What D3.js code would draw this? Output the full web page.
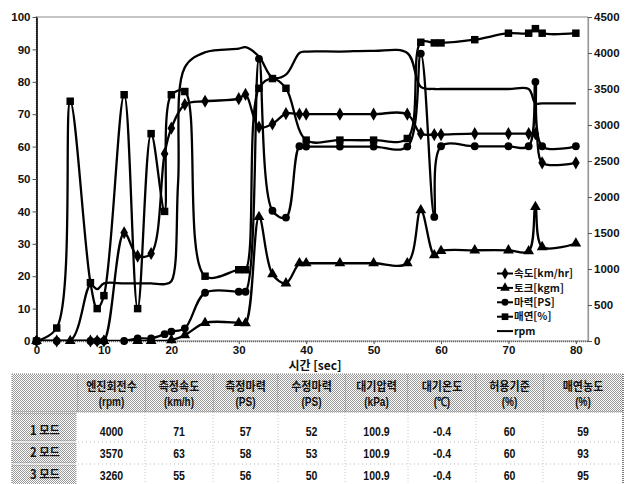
<!DOCTYPE html>
<html>
<head>
<meta charset="utf-8">
<script src="https://cdn.jsdelivr.net/npm/d3@7/dist/d3.min.js"></script>
<style>
  body { margin: 0; background: #fff; }
  svg { display: block; }
</style>
</head>
<body>
<div id="chart-area"></div>
<script>
// ---------------- data ----------------
var speedT  = [0,3,8,9,10,13,15,17,19,20,22,25,30,31,33,35,37,39,40,45,50,55,57,59,60,65,70,73,74,75,80];
var speedV  = [0,0,0,0,0,33.4,26.2,27,57.8,65.7,73,74,74.8,76.1,66,67,70.2,70,70,70,70,70,64,63.7,63.7,64,64,64,64,55,55];

var torqueT = [0,5,10,15,17,20,22,25,30,31,33,35,37,39,40,45,50,55,57,59,60,65,70,73,74,75,80];
var torqueV = [0,0,0,0,0,0.3,1.8,5.6,5.6,5.5,38.3,20.6,17.8,24,24,24,24,24,40.4,26.5,27.8,28,28,27.7,41.4,29,30.1];

var powerT  = [0,3,8,9,10,13,15,17,19,20,22,25,30,31,33,35,37,39,40,45,50,55,57,59,60,65,70,73,74,75,80];
var powerV  = [0,0,0,0,0,0,0.8,0.8,2.1,2.9,3.9,14.9,15.2,15.2,87.1,40.2,38.1,60.1,60,60,60,60,88.7,38.3,60.1,60.1,60.1,60.1,80,60.1,60.1];

var smokeT  = [0,3,5,8,9,10,13,15,17,19,20,22,25,30,31,33,35,37,40,45,50,55,57,59,60,65,70,73,74,75,80];
var smokeV  = [0,4,74,18,10,14,76,10,64,40,76,77,20,22,22,78,81,78,62,62,62,62.5,92.2,92,92,93,95,95,96.4,95,95];

var rpmT    = [0,5,8,9,10,13,15,17,19,20,21,22,25,30,31,33,35,37,39,40,45,50,55,57,59,60,65,70,73,74,75,80];
var rpmV    = [0,0,780,720,800,800,800,800,790,830,2200,3800,4010,4060,4080,3950,3660,3700,4000,4020,4020,4030,4000,3530,3500,3500,3500,3500,3500,3300,3300,3300];

var legendNames = ["속도[km/hr]", "토크[kgm]", "마력[PS]", "매연[%]", "rpm"];

var leftTicks  = [0,10,20,30,40,50,60,70,80,90,100];
var rightTicks = [0,500,1000,1500,2000,2500,3000,3500,4000,4500];
var xTicks     = [0,10,20,30,40,50,60,70,80];

var tableHead1 = ["", "엔진회전수", "측정속도", "측정마력", "수정마력", "대기압력", "대기온도", "허용기준", "매연농도"];
var tableHead2 = ["", "(rpm)", "(km/h)", "(PS)", "(PS)", "(kPa)", "(℃)", "(%)", "(%)"];
var tableModes = ["1 모드", "2 모드", "3 모드"];
var tableVals  = [
  ["4000", "71", "57", "52", "100.9", "-0.4", "60", "59"],
  ["3570", "63", "58", "53", "100.9", "-0.4", "60", "93"],
  ["3260", "55", "56", "50", "100.9", "-0.4", "60", "95"]
];

// ---------------- layout ----------------
var W = 630, H = 484;
var plot = { left: 36.5, right: 588, top: 17, bottom: 341 };
var bold = "'Liberation Sans', Arial, sans-serif";
var kor  = "'Noto Sans CJK KR', 'Noto Sans', sans-serif";

var svg = d3.select("#chart-area").append("svg")
    .attr("width", W)
    .attr("height", H);

var defs = svg.append("defs");
defs.append("clipPath").attr("id", "plotclip")
  .append("rect")
    .attr("x", plot.left).attr("y", plot.top - 6)
    .attr("width", plot.right - plot.left).attr("height", plot.bottom - plot.top + 6);

// dithered grey for the table header cells
var pat = defs.append("pattern").attr("id", "hatch")
    .attr("width", 2).attr("height", 2).attr("patternUnits", "userSpaceOnUse");
pat.append("rect").attr("width", 2).attr("height", 2).attr("fill", "#fff");
pat.append("rect").attr("x", 0).attr("y", 0).attr("width", 1).attr("height", 1).attr("fill", "#999");
pat.append("rect").attr("x", 1).attr("y", 1).attr("width", 1).attr("height", 1).attr("fill", "#999");

var x  = d3.scaleLinear().domain([0, 81.8]).range([plot.left, plot.right]);
var y  = d3.scaleLinear().domain([0, 100]).range([plot.bottom, plot.top]);
var y2 = d3.scaleLinear().domain([0, 4500]).range([plot.bottom, plot.top]);

// frame
svg.append("rect")
    .attr("x", plot.left).attr("y", plot.top)
    .attr("width", plot.right - plot.left).attr("height", plot.bottom - plot.top)
    .attr("fill", "none").attr("stroke", "#666").attr("stroke-width", 1.3)
    .attr("stroke-dasharray", "1,1");

// axes
var gl = svg.append("g").attr("transform", "translate(" + plot.left + ",0)")
    .call(d3.axisLeft(y).tickValues(leftTicks).tickSize(4).tickSizeOuter(0).tickPadding(2));
var gr = svg.append("g").attr("transform", "translate(" + plot.right + ",0)")
    .call(d3.axisRight(y2).tickValues(rightTicks).tickFormat(d3.format("d"))
      .tickSize(4).tickSizeOuter(0).tickPadding(2));
var gb = svg.append("g").attr("transform", "translate(0," + plot.bottom + ")")
    .call(d3.axisBottom(x).tickValues(xTicks).tickSize(3).tickSizeOuter(0).tickPadding(2));

[gl, gr, gb].forEach(function(g) {
  g.selectAll("text").attr("font-family", bold).attr("font-weight", "bold")
    .attr("font-size", 11.5).attr("fill", "#111");
  g.selectAll(".tick line").attr("stroke", "#555");
});
gl.select(".domain").attr("stroke", "#000").attr("stroke-width", 1.6);
gr.select(".domain").attr("stroke", "#666").attr("stroke-dasharray", "1,1").attr("stroke-width", 1.3);
gb.select(".domain").attr("stroke", "#666").attr("stroke-dasharray", "1,1").attr("stroke-width", 1.3);

svg.append("text")
    .attr("x", 315).attr("y", 370)
    .attr("text-anchor", "middle")
    .attr("font-family", kor).attr("font-weight", "bold").attr("font-size", 12)
    .attr("fill", "#111")
    .text("시간 [sec]");

// ---------------- series ----------------
function pairs(t, v) { return t.map(function(d, i) { return [d, v[i]]; }); }

var series = [
  { data: pairs(rpmT, rpmV),       scale: y2, symbol: null },
  { data: pairs(speedT, speedV),   scale: y,  symbol: d3.symbolDiamond,  size: 50 },
  { data: pairs(torqueT, torqueV), scale: y,  symbol: d3.symbolTriangle, size: 50 },
  { data: pairs(powerT, powerV),   scale: y,  symbol: d3.symbolCircle,   size: 48 },
  { data: pairs(smokeT, smokeV),   scale: y,  symbol: d3.symbolSquare,   size: 56 }
];

var lines = svg.append("g").attr("clip-path", "url(#plotclip)");

series.forEach(function(s) {
  var ys = s.scale;
  lines.append("path")
    .datum(s.data)
    .attr("fill", "none")
    .attr("stroke", "#000")
    .attr("stroke-width", 2.3)
    .attr("stroke-linejoin", "round")
    .attr("d", d3.line()
      .curve(d3.curveCatmullRom.alpha(0.5))
      .x(function(d) { return x(d[0]); })
      .y(function(d) { return ys(d[1]); }));
});

series.forEach(function(s) {
  if (!s.symbol) return;
  svg.append("g").selectAll("path")
    .data(s.data)
    .enter()
    .append("path")
      .attr("transform", function(d) { return "translate(" + x(d[0]) + "," + s.scale(d[1]) + ")"; })
      .attr("d", d3.symbol().type(s.symbol).size(s.size))
      .attr("fill", "#000");
});

// legend
var legendOrder = [1, 2, 3, 4, 0];
var lg = svg.append("g");
legendOrder.forEach(function(si, i) {
  var s = series[si];
  var ly = 273.5 + i * 14.4;
  lg.append("line")
    .attr("x1", 497).attr("x2", 513).attr("y1", ly).attr("y2", ly)
    .attr("stroke", "#000").attr("stroke-width", 2);
  if (s.symbol) {
    lg.append("path")
      .attr("transform", "translate(505," + ly + ")")
      .attr("d", d3.symbol().type(s.symbol).size(s.size * 0.8))
      .attr("fill", "#000");
  }
  lg.append("text")
    .attr("x", 514).attr("y", ly)
    .attr("dy", "0.36em")
    .attr("font-family", kor).attr("font-weight", "bold").attr("font-size", 10.5)
    .attr("fill", "#111")
    .text(legendNames[i]);
});

// ---------------- table ----------------
var colEdges = [12, 78, 145, 213, 278, 345, 408, 476, 543, 623];
var rowEdges = [374, 412, 442, 464, 486];
var rowText  = [431, 453, 475];

var tb = svg.append("g");

// header background
tb.append("rect")
    .attr("x", colEdges[0]).attr("y", rowEdges[0])
    .attr("width", colEdges[colEdges.length - 1] - colEdges[0])
    .attr("height", rowEdges[1] - rowEdges[0])
    .attr("fill", "url(#hatch)");

// mode cells
tableModes.forEach(function(m, i) {
  tb.append("rect")
    .attr("x", colEdges[0]).attr("y", rowEdges[i + 1] + 1)
    .attr("width", colEdges[1] - colEdges[0] - 2)
    .attr("height", rowEdges[i + 2] - rowEdges[i + 1] - 2)
    .attr("fill", "url(#hatch)")
    .attr("stroke", "#999").attr("stroke-dasharray", "1,1");
});

// grid
colEdges.forEach(function(cx, i) {
  tb.append("line")
    .attr("x1", cx).attr("x2", cx)
    .attr("y1", rowEdges[0]).attr("y2", (i === 0 || i === colEdges.length - 1) ? H : rowEdges[1])
    .attr("stroke", i === colEdges.length - 1 ? "#555" : "#888")
    .attr("stroke-width", i === colEdges.length - 1 ? 1.5 : 1)
    .attr("stroke-dasharray", "1,1");
  if (i > 1 && i < colEdges.length - 1) {
    tb.append("line")
      .attr("x1", cx).attr("x2", cx).attr("y1", rowEdges[1]).attr("y2", H)
      .attr("stroke", "#ccc").attr("stroke-dasharray", "1,2");
  }
});
[rowEdges[0], rowEdges[1]].forEach(function(ry) {
  tb.append("line")
    .attr("x1", colEdges[0]).attr("x2", colEdges[colEdges.length - 1])
    .attr("y1", ry).attr("y2", ry)
    .attr("stroke", "#888").attr("stroke-dasharray", "1,1");
});
[rowEdges[2], rowEdges[3]].forEach(function(ry) {
  tb.append("line")
    .attr("x1", colEdges[1]).attr("x2", colEdges[colEdges.length - 1])
    .attr("y1", ry).attr("y2", ry)
    .attr("stroke", "#bbb").attr("stroke-dasharray", "1,3");
});

function colCenter(i) { return (colEdges[i] + colEdges[i + 1]) / 2; }

function narrowText(g, cx, cy, str, font, size, sx) {
  g.append("text")
    .attr("transform", "translate(" + cx + "," + cy + ") scale(" + sx + ",1)")
    .attr("text-anchor", "middle")
    .attr("dy", "0.35em")
    .attr("font-family", font).attr("font-weight", "bold").attr("font-size", size)
    .attr("fill", "#111")
    .text(str);
}

tableHead1.forEach(function(h, i) {
  if (!h) return;
  narrowText(tb, colCenter(i), 387, h, kor, 12, 0.92);
  narrowText(tb, colCenter(i), 401.5, tableHead2[i], bold, 12.5, 0.8);
});

tableModes.forEach(function(m, r) {
  narrowText(tb, colCenter(0), rowText[r], m, kor, 12.5, 0.9);
  tableVals[r].forEach(function(v, c) {
    narrowText(tb, colCenter(c + 1), rowText[r], v, bold, 13.5, 0.78);
  });
});
</script>
</body>
</html>
